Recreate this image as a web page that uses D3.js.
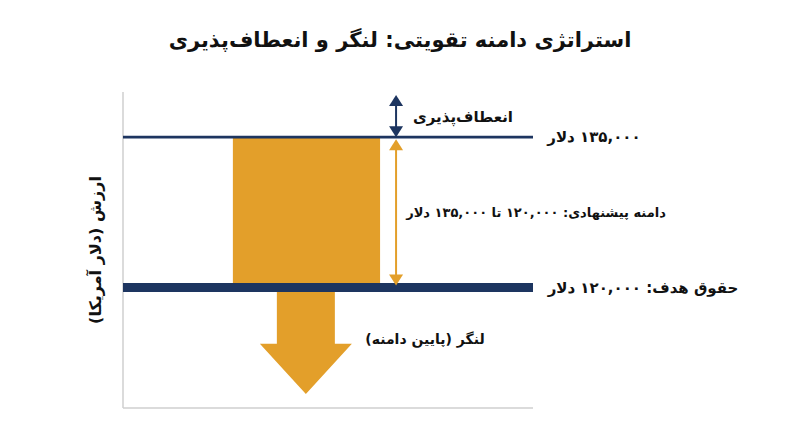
<!DOCTYPE html>
<html lang="fa">
<head>
<meta charset="utf-8">
<script src="https://cdn.jsdelivr.net/npm/d3@7"></script>
<style>
  html, body { margin: 0; padding: 0; background: #fff; }
  text { font-family: "DejaVu Sans", "Noto Sans", sans-serif; font-weight: bold; fill: #111; }
</style>
</head>
<body>
<div id="chart"></div>
<script>
// salary levels (USD)
const levelNames = ['target', 'ceiling'];
const levelValues = [120000, 135000];
// decorative arrow extents (USD)
const flexTop = 139200;
const anchorShaftEnd = 114400;
const anchorTip = 109400;
const yDomain = [108000, 139500];

const titleText = 'استراتژی دامنه تقویتی: لنگر و انعطاف‌پذیری';
const yLabel = 'ارزش (دلار آمریکا)';
const flexLabel = 'انعطاف‌پذیری';
const anchorLabel = 'لنگر (پایین دامنه)';

const toFa = s => String(s).replace(/\d/g, d => '۰۱۲۳۴۵۶۷۸۹'[d]);
const money = v => toFa(d3.format(',')(v)) + ' دلار';

let width = 800, height = 447;
let margin = {top: 92, bottom: 39, left: 123, right: 267};
let navy = '#1d3560', orange = '#e39f2a';

let svg = d3.select('#chart').append('svg').attr('width', width).attr('height', height);

let yScale = d3.scaleLinear().domain(yDomain).range([height - margin.bottom, margin.top]);
let xScale = d3.scaleLinear().domain([0, 100]).range([margin.left, width - margin.right]);

let target = levelValues[levelNames.indexOf('target')];
let ceiling = levelValues[levelNames.indexOf('ceiling')];

// title
svg.append('text')
  .attr('x', width / 2).attr('y', 40)
  .attr('text-anchor', 'middle').attr('dominant-baseline', 'central')
  .attr('direction', 'rtl')
  .style('font-size', '21px')
  .text(titleText);

// range bar
svg.append('rect')
  .attr('x', xScale(26.8)).attr('width', xScale(62.7) - xScale(26.8))
  .attr('y', yScale(ceiling)).attr('height', yScale(target) - yScale(ceiling))
  .attr('fill', orange);

// anchor arrow (block arrow pointing down)
let cx = xScale(44.6), shaftW = 29, headW = 46;
let arrowPts = [
  [cx - shaftW, yScale(target)], [cx + shaftW, yScale(target)],
  [cx + shaftW, yScale(anchorShaftEnd)], [cx + headW, yScale(anchorShaftEnd)],
  [cx, yScale(anchorTip)],
  [cx - headW, yScale(anchorShaftEnd)], [cx - shaftW, yScale(anchorShaftEnd)]
];
svg.append('path').attr('d', d3.line()(arrowPts) + 'Z').attr('fill', orange);

// axes (no ticks)
let axisG = svg.append('g');
axisG.append('line')
  .attr('x1', margin.left).attr('x2', margin.left)
  .attr('y1', yScale(yDomain[1])).attr('y2', yScale(yDomain[0]))
  .attr('stroke', '#cfcfcf').attr('stroke-width', 1.5);
axisG.append('line')
  .attr('x1', margin.left).attr('x2', xScale(100))
  .attr('y1', yScale(yDomain[0])).attr('y2', yScale(yDomain[0]))
  .attr('stroke', '#cfcfcf').attr('stroke-width', 1.5);

// level lines
svg.selectAll('line.level')
  .data(levelNames.map((n, i) => ({name: n, value: levelValues[i]})))
  .enter().append('line')
  .attr('class', 'level')
  .attr('x1', margin.left).attr('x2', xScale(100))
  .attr('y1', d => yScale(d.value)).attr('y2', d => yScale(d.value))
  .attr('stroke', navy)
  .attr('stroke-width', d => d.name === 'target' ? 9 : 2.8);

// double-headed arrows
function doubleArrow(x, v1, v2, color, gap) {
  let ya = yScale(v1) + gap, yb = yScale(v2) - gap;
  let hw = 7, hh = 11;
  let g = svg.append('g');
  g.append('line').attr('x1', x).attr('x2', x).attr('y1', ya + hh - 1).attr('y2', yb - hh + 1)
    .attr('stroke', color).attr('stroke-width', 2);
  g.append('path').attr('d', d3.line()([[x, ya], [x - hw, ya + hh], [x + hw, ya + hh]]) + 'Z').attr('fill', color);
  g.append('path').attr('d', d3.line()([[x, yb], [x - hw, yb - hh], [x + hw, yb - hh]]) + 'Z').attr('fill', color);
}
let ax = xScale(66.6);
doubleArrow(ax, flexTop, ceiling, navy, 0);
doubleArrow(ax, ceiling, target, orange, 2);

// labels
function label(x, y, txt, size) {
  svg.append('text')
    .attr('x', x).attr('y', y)
    .attr('text-anchor', 'middle').attr('dominant-baseline', 'central')
    .attr('direction', 'rtl').attr('unicode-bidi', 'embed')
    .style('font-size', size + 'px')
    .text(txt);
}
label(463, yScale((flexTop + ceiling) / 2) + 1, flexLabel, 15);
label(594, yScale(ceiling), money(ceiling), 15);
label(536, yScale((ceiling + target) / 2), 'دامنه پیشنهادی: ' + toFa(d3.format(',')(target)) + ' تا ' + money(ceiling), 13);
label(643, yScale(target), 'حقوق هدف: ' + money(target), 15);
label(425, yScale(anchorShaftEnd) - 5, anchorLabel, 14);

// y axis label
svg.append('text')
  .attr('transform', 'translate(95,' + (margin.top + (height - margin.bottom - margin.top) / 2) + ') rotate(-90)')
  .attr('text-anchor', 'middle').attr('dominant-baseline', 'central')
  .attr('direction', 'rtl')
  .style('font-size', '16px')
  .text(yLabel);
</script>
</body>
</html>
